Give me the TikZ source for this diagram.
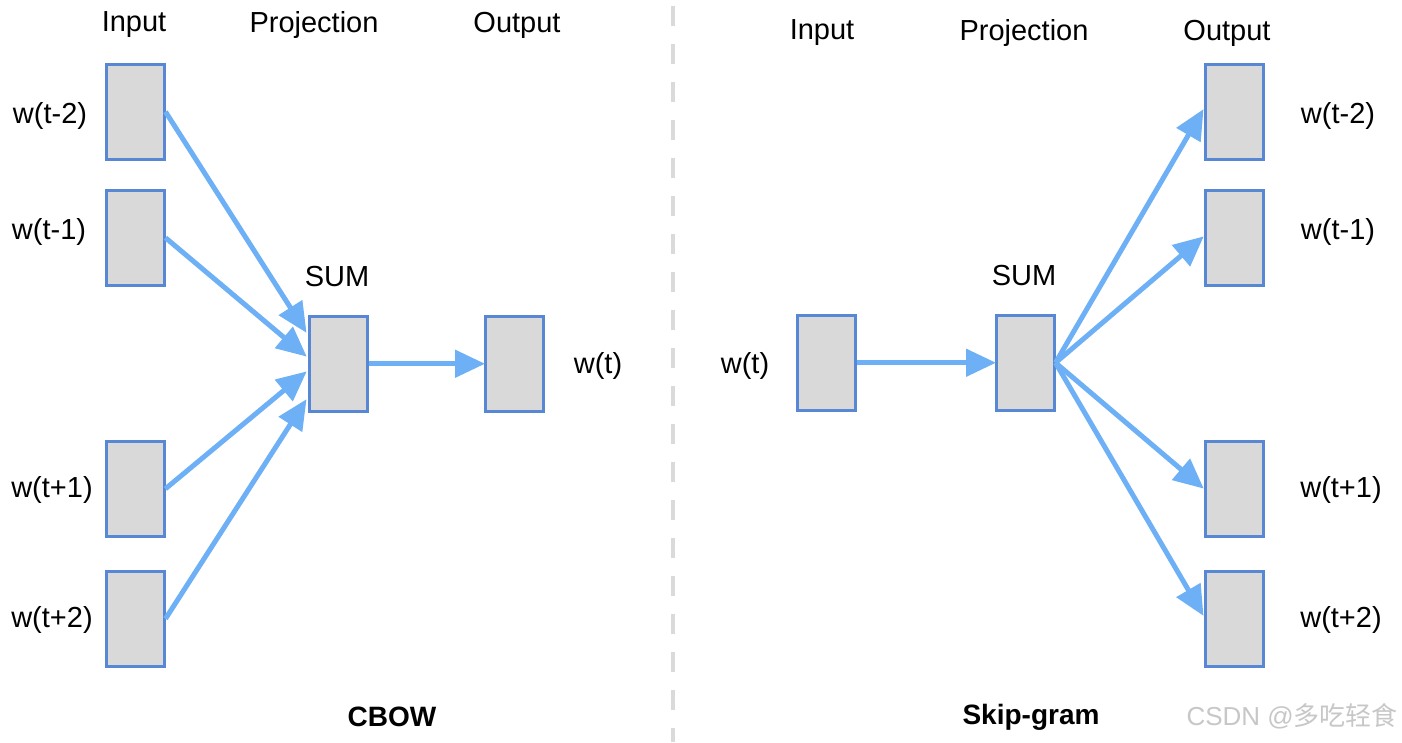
\documentclass[tikz,border=0pt]{standalone}
\usepackage{fontspec}
\setmainfont{Liberation Sans}
\newfontfamily\cjk{Noto Sans CJK SC}
\usetikzlibrary{arrows.meta}
\definecolor{arrowblue}{RGB}{110,176,245}
\definecolor{boxedge}{RGB}{88,136,212}
\definecolor{boxfill}{RGB}{217,217,217}
\definecolor{dashgray}{RGB}{218,218,218}
\tikzset{
  unit/.style={draw=boxedge, line width=2.5pt, fill=boxfill, minimum width=58pt, minimum height=95pt, inner sep=0pt, anchor=north west},
  lbl/.style={font=\fontsize{29}{32}\selectfont, inner sep=0pt},
  ttl/.style={font=\fontsize{28}{31}\selectfont\bfseries, inner sep=0pt},
  conn/.style={draw=arrowblue, line width=5pt, -{Triangle[length=30pt,width=27pt]}, shorten >=-1pt},
}
\begin{document}
\begin{tikzpicture}[x=1pt,y=-1pt]
\useasboundingbox (0,0) rectangle (1402,742);
% divider
\draw[dashgray, line width=4pt, dash pattern=on 20pt off 18pt] (673,6) -- (673,742);

% ---------- CBOW ----------
\node[lbl] (ci) at (134,25) {Input};
\node[lbl] (cp) at (314,25) {Projection};
\node[lbl] (co) at (517,25) {Output};

\node[unit] (c1) at (105,63) {};
\node[unit] (c2) at (105,189) {};
\node[unit] (c3) at (105,440) {};
\node[unit] (c4) at (105,570) {};
\node[unit] (csum) at (308,315) {};
\node[unit] (cout) at (484,315) {};

\node[lbl] (l1) at (50,116) {w(t-2)};
\node[lbl] (l2) at (49,232) {w(t-1)};
\node[lbl] (l3) at (52,490) {w(t+1)};
\node[lbl] (l4) at (52,620) {w(t+2)};
\node[lbl] (csl) at (337,277) {SUM};
\node[lbl] (cwt) at (598,366) {w(t)};
\node[ttl] (cbow) at (392,717) {CBOW};

\coordinate (ce1) at (306,332);
\coordinate (ce2) at (306,356);
\coordinate (ce3) at (306,372);
\coordinate (ce4) at (306,400);
\draw[conn] (c1.east) -- (ce1);
\draw[conn] (c2.east) -- (ce2);
\draw[conn] (c3.east) -- (ce3);
\draw[conn] (c4.east) -- (ce4);
\draw[conn] (csum.east) -- (cout.west);

% ---------- Skip-gram ----------
\node[lbl] (si) at (822,33) {Input};
\node[lbl] (sp) at (1024,33) {Projection};
\node[lbl] (so) at (1227,33) {Output};

\node[unit] (sin) at (796,314) {};
\node[unit] (ssum) at (995,314) {};
\node[unit] (s1) at (1204,63) {};
\node[unit] (s2) at (1204,189) {};
\node[unit] (s3) at (1204,440) {};
\node[unit] (s4) at (1204,570) {};

\node[lbl] (sw) at (745,366) {w(t)};
\node[lbl] (ssl) at (1024,276) {SUM};
\node[lbl] (r1) at (1338,116) {w(t-2)};
\node[lbl] (r2) at (1338,232) {w(t-1)};
\node[lbl] (r3) at (1341,490) {w(t+1)};
\node[lbl] (r4) at (1341,620) {w(t+2)};
\node[ttl] (skip) at (1031,717) {Skip-gram};

\coordinate (se1) at (1203,110);
\coordinate (se2) at (1203,237);
\coordinate (se3) at (1203,488);
\coordinate (se4) at (1203,615);
\draw[conn] (ssum.east) -- (se1);
\draw[conn] (ssum.east) -- (se2);
\draw[conn] (ssum.east) -- (se3);
\draw[conn] (ssum.east) -- (se4);
\draw[conn] (sin.east) -- (ssum.west);

% watermark
\node[text=black!22, font=\fontsize{26}{28}\selectfont, inner sep=0pt, anchor=east] (wm) at (1398,716) {CSDN @\cjk 多吃轻食};
\end{tikzpicture}
\end{document}
